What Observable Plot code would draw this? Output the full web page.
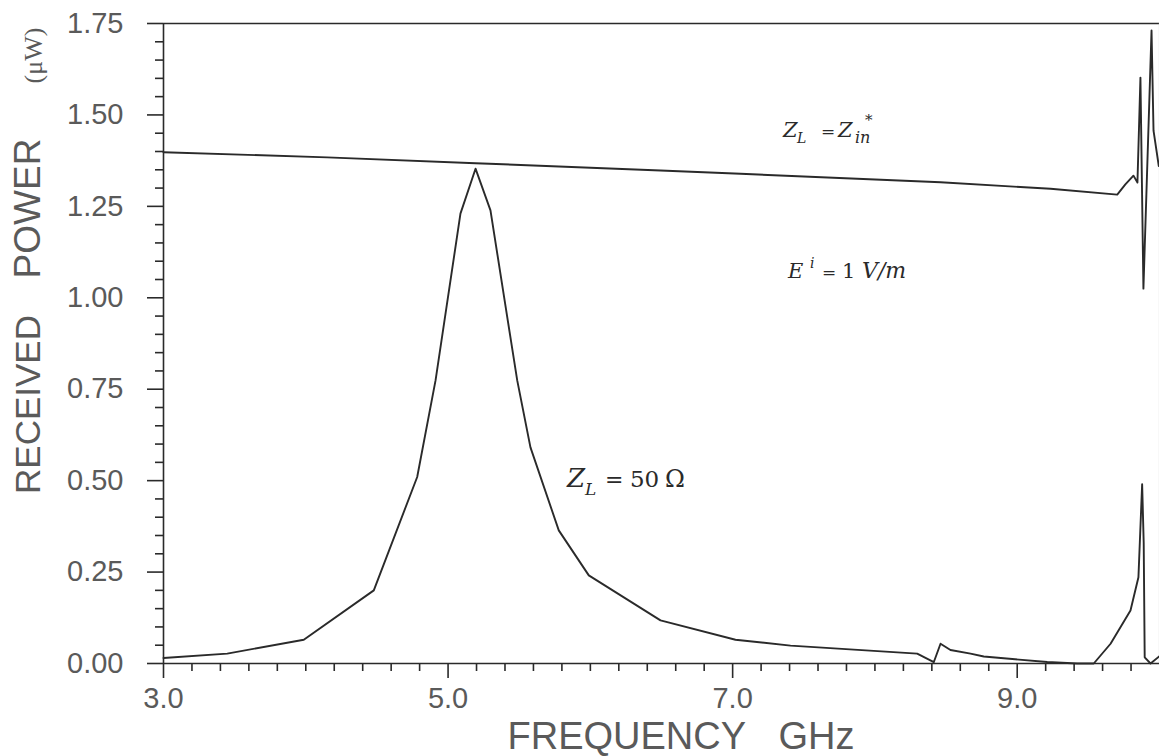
<!DOCTYPE html>
<html>
<head>
<meta charset="utf-8">
<script src="https://cdn.jsdelivr.net/npm/d3@7"></script>
<script src="https://cdn.jsdelivr.net/npm/@observablehq/plot@0.6"></script>
<style>
html, body { margin: 0; padding: 0; background: #fff; overflow: hidden; }
</style>
</head>
<body>
<div id="chart"></div>
<script>
// Z_L = Z_in* (conjugate-matched load)
const freqMatched  = [3.0, 4.15, 5.193, 6.493, 7.055, 8.461, 9.234, 9.703, 9.76, 9.817, 9.845, 9.866, 9.887, 9.944, 9.958, 9.995];
const powerMatched = [1.398, 1.384, 1.368, 1.348, 1.339, 1.316, 1.298, 1.282, 1.31, 1.334, 1.315, 1.602, 1.025, 1.731, 1.457, 1.36];

// Z_L = 50 ohm
const freq50  = [3.0, 3.448, 3.986, 4.478, 4.783, 4.912, 5.087, 5.193, 5.298, 5.486, 5.579, 5.778, 5.989, 6.493, 7.020, 7.407, 8.297, 8.414, 8.461, 8.531, 8.672, 8.765, 9.211, 9.421, 9.538, 9.656, 9.796, 9.852, 9.878, 9.889, 9.896, 9.937, 10.0];
const power50 = [0.015, 0.027, 0.065, 0.20, 0.51, 0.774, 1.23, 1.353, 1.239, 0.774, 0.591, 0.364, 0.241, 0.118, 0.065, 0.049, 0.027, 0.004, 0.054, 0.037, 0.027, 0.019, 0.004, 0.0, 0.0, 0.054, 0.145, 0.236, 0.49, 0.33, 0.017, 0.0, 0.02];

// ticks
const xMajorTicks = [3, 5, 7, 9];
const xMinorTicks = [3.2, 3.4, 3.6, 3.8, 4.0, 4.2, 4.4, 4.6, 4.8, 5.2, 5.4, 5.6, 5.8, 6.0, 6.2, 6.4, 6.6, 6.8, 7.2, 7.4, 7.6, 7.8, 8.0, 8.2, 8.4, 8.6, 8.8, 9.2, 9.4, 9.6, 9.8];
const yMajorTicks = [0, 0.25, 0.5, 0.75, 1.0, 1.25, 1.5, 1.75];
const yMinorTicks = [0.05, 0.10, 0.15, 0.20, 0.30, 0.35, 0.40, 0.45, 0.55, 0.60, 0.65, 0.70, 0.80, 0.85, 0.90, 0.95, 1.05, 1.10, 1.15, 1.20, 1.30, 1.35, 1.40, 1.45, 1.55, 1.60, 1.65, 1.70];

// annotation anchors (data coordinates)
const noteX = [7.357, 7.393, 5.839];
const noteY = [1.438, 1.053, 0.481];

const matched = freqMatched.map((f, i) => ({f, p: powerMatched[i]}));
const fifty = freq50.map((f, i) => ({f, p: power50[i]}));

const ink = "#2a2a2a";
const labelInk = "#5a5a5a";

const plot = Plot.plot({
  width: 1159,
  height: 756,
  marginLeft: 163,
  marginRight: 0,
  marginTop: 23,
  marginBottom: 93,
  x: {domain: [3, 10], label: null},
  y: {domain: [0, 1.75], label: null},
  style: {fontFamily: "'Liberation Sans', Arial, sans-serif", background: "#fff", color: ink},
  marks: [
    Plot.ruleY([0, 1.75], {stroke: ink, strokeWidth: 1.6}),
    Plot.ruleX([3], {stroke: ink, strokeWidth: 1.6}),
    Plot.ruleX([10], {stroke: "#bbb", strokeWidth: 1.2}),
    Plot.axisX({ticks: xMinorTicks, tickSize: 8, tickFormat: () => "", stroke: ink, strokeWidth: 1.6, label: null}),
    Plot.axisX({ticks: xMajorTicks, tickSize: 15, tickPadding: 9, tickFormat: d3.format(".1f"), fontSize: 29, fill: labelInk, stroke: ink, strokeWidth: 1.6, label: null}),
    Plot.axisY({ticks: yMinorTicks, tickSize: 8, tickFormat: () => "", stroke: ink, strokeWidth: 1.6, label: null}),
    Plot.axisY({ticks: yMajorTicks, tickSize: 16, tickPadding: 24, tickFormat: d3.format(".2f"), fontSize: 29, fill: labelInk, stroke: ink, strokeWidth: 1.6, label: null}),
    Plot.line(matched, {x: "f", y: "p", stroke: ink, strokeWidth: 1.9}),
    Plot.line(fifty, {x: "f", y: "p", stroke: ink, strokeWidth: 1.9}),
    Plot.text(["RECEIVED"], {frameAnchor: "left", rotate: -90, dx: -135, dy: 61, fontSize: 35, fill: labelInk, textAnchor: "middle", lineAnchor: "middle"}),
    Plot.text(["POWER"], {frameAnchor: "left", rotate: -90, dx: -135, dy: -135, fontSize: 37, fill: labelInk, textAnchor: "middle", lineAnchor: "middle"}),
    Plot.text(["(\u03BCW)"], {frameAnchor: "left", rotate: -90, dx: -130, dy: -288, fontSize: 26, fontFamily: "'Liberation Serif', serif", fill: labelInk, textAnchor: "middle", lineAnchor: "middle"}),
    Plot.text(["FREQUENCY"], {frameAnchor: "bottom-left", dx: 344, dy: 85, fontSize: 38, fill: labelInk, textAnchor: "start", lineAnchor: "bottom"}),
    Plot.text(["GHz"], {frameAnchor: "bottom-left", dx: 615, dy: 85, fontSize: 38, fill: labelInk, textAnchor: "start", lineAnchor: "bottom"})
  ]
});

document.getElementById("chart").appendChild(plot);

// annotations with sub/superscripts, anchored via the plot's scales
const notes = [
  [
    {t: "Z", ox: 0, oy: 0, s: 21, i: true},
    {t: "L", ox: 14, oy: 6, s: 14, i: true},
    {t: "=", ox: 38, oy: 0, s: 17, i: false},
    {t: "Z", ox: 55, oy: 0, s: 21, i: true},
    {t: "*", ox: 82, oy: -12, s: 15, i: false},
    {t: "in", ox: 72, oy: 6, s: 16, i: true}
  ],
  [
    {t: "E", ox: 0, oy: 0, s: 21, i: true},
    {t: "i", ox: 22, oy: -10, s: 14, i: true},
    {t: "=", ox: 34, oy: 0, s: 17, i: false},
    {t: "1", ox: 54, oy: 0, s: 21, i: false},
    {t: "V/m", ox: 74, oy: 0, s: 22, i: true}
  ],
  [
    {t: "Z", ox: 0, oy: 0, s: 26, i: true},
    {t: "L", ox: 18, oy: 8, s: 17, i: true},
    {t: "=", ox: 38, oy: 0, s: 22, i: false},
    {t: "50", ox: 63, oy: 0, s: 23, i: false},
    {t: "\u03A9", ox: 98, oy: 0, s: 24, i: false}
  ]
];

const sx = plot.scale("x"), sy = plot.scale("y");
const svg = d3.select(plot);
const g = svg.append("g")
  .attr("font-family", "'DejaVu Serif', 'Liberation Serif', serif")
  .attr("text-anchor", "start")
  .attr("fill", "#2a2a2a");
notes.forEach((parts, k) => {
  const px = sx.apply(noteX[k]);
  const py = sy.apply(noteY[k]);
  parts.forEach(p => {
    g.append("text")
      .attr("x", px + p.ox)
      .attr("y", py + p.oy)
      .attr("text-anchor", "start")
      .attr("font-size", p.s)
      .attr("font-style", p.i ? "italic" : "normal")
      .text(p.t);
  });
});
</script>
</body>
</html>
